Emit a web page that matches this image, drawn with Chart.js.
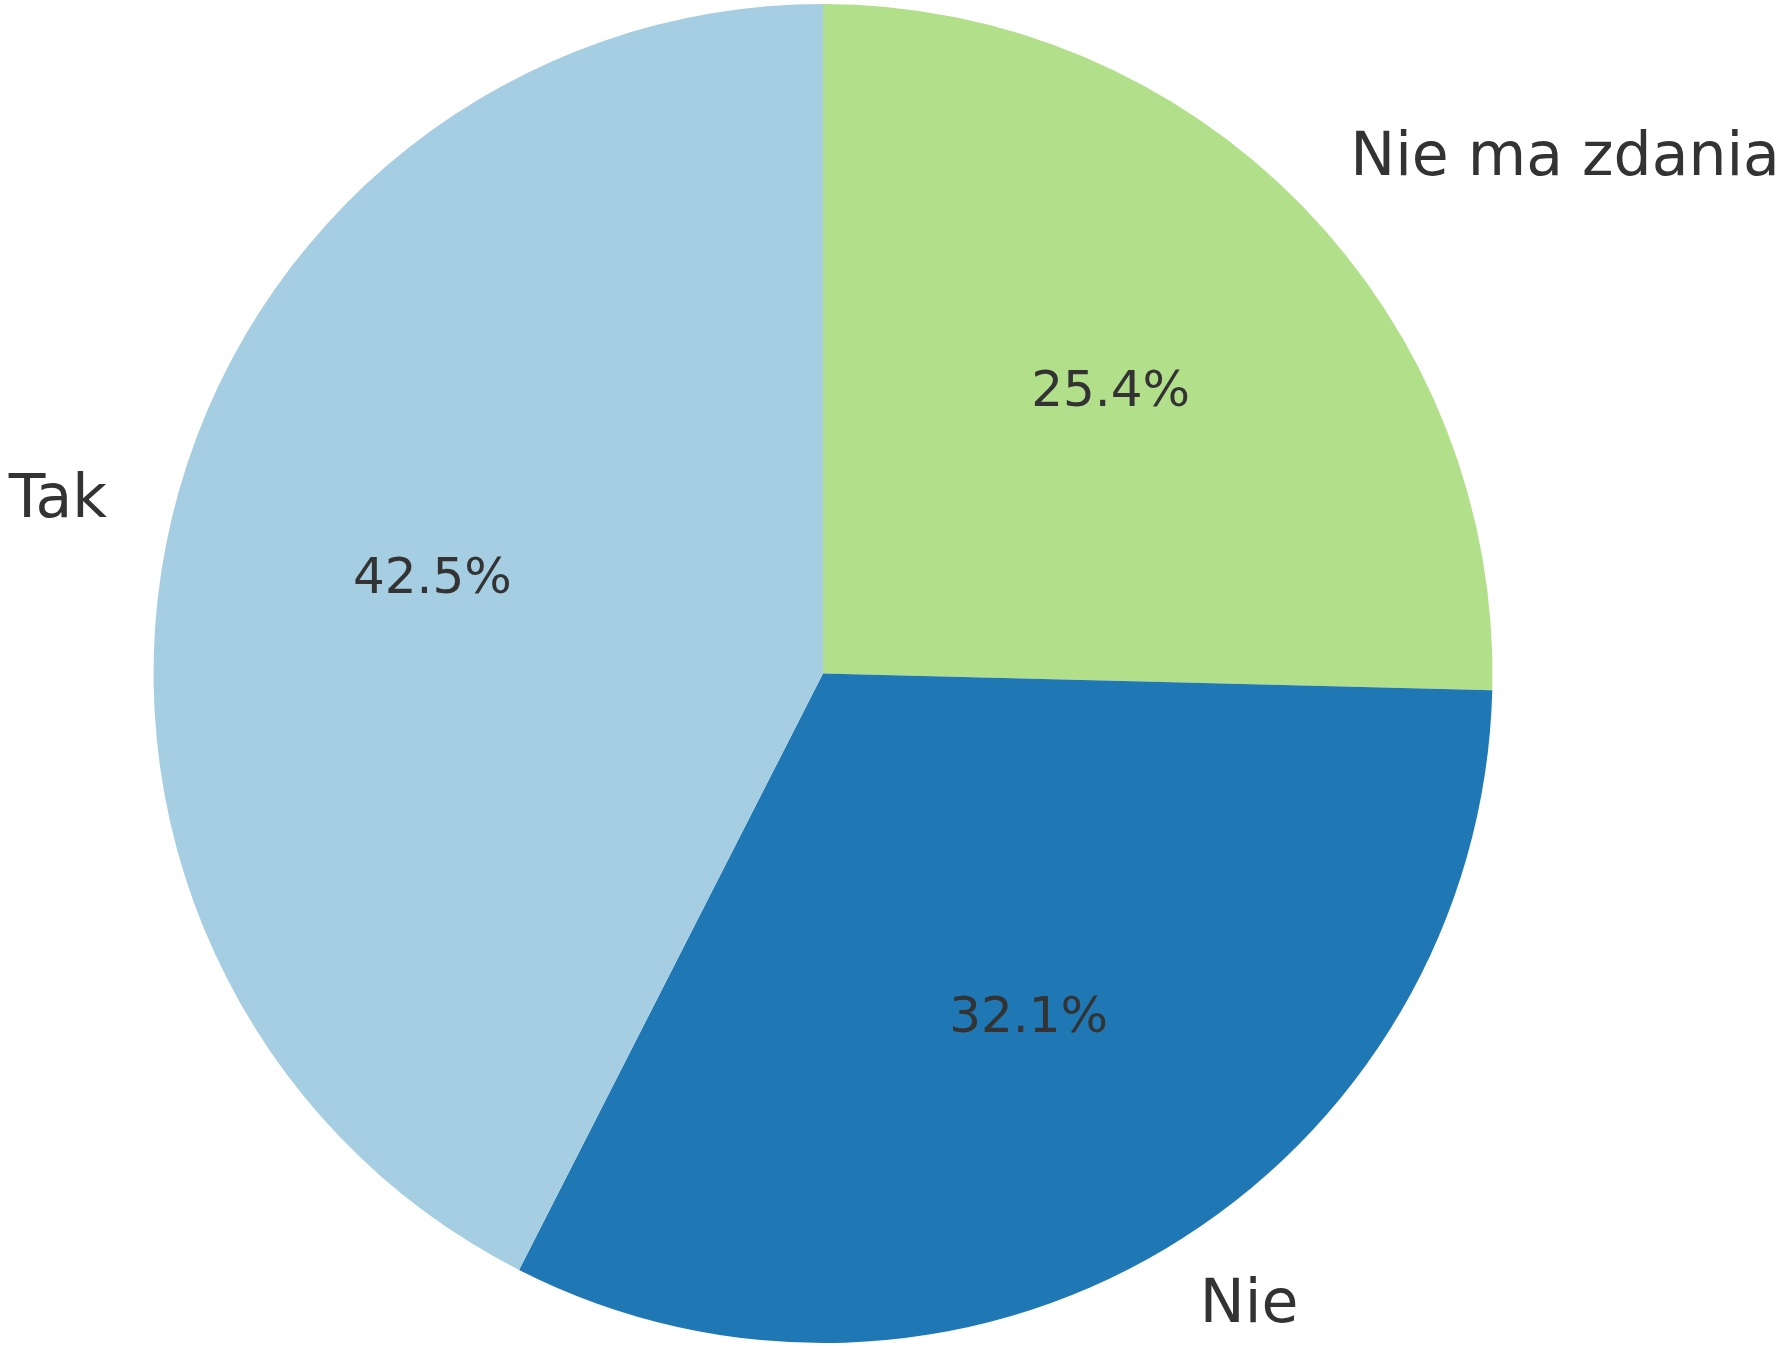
<!DOCTYPE html>
<html>
<head>
<meta charset="utf-8">
<script src="https://cdn.jsdelivr.net/npm/chart.js@4/dist/chart.umd.min.js"></script>
<style>
  html, body { margin: 0; padding: 0; background: #fff; }
  #wrap { width: 1783px; height: 1346px; position: relative; }
</style>
</head>
<body>
<div id="wrap"><canvas id="chart"></canvas></div>
<script>
// Data, clockwise from the top
const labels = ['Nie ma zdania', 'Nie', 'Tak'];
const shares = [25.4, 32.1, 42.5];
const colors = ['#b2df8a', '#1f78b4', '#a6cee3'];

// Draws the category names outside and the percentages inside each slice
const sliceLabels = {
  id: 'sliceLabels',
  afterDatasetsDraw(chart) {
    const ctx = chart.ctx;
    const arcs = chart.getDatasetMeta(0).data;
    ctx.save();
    ctx.fillStyle = '#333333';
    ctx.textBaseline = 'middle';
    arcs.forEach((arc, i) => {
      const mid = (arc.startAngle + arc.endAngle) / 2;
      const r = arc.outerRadius;
      const cos = Math.cos(mid), sin = Math.sin(mid);

      // outer label at 1.1 r
      ctx.font = '60px "DejaVu Sans"';
      ctx.textAlign = cos > 0 ? 'left' : 'right';
      ctx.fillText(labels[i], arc.x + 1.1 * r * cos, arc.y + 1.1 * r * sin);

      // percentage at 0.6 r
      ctx.font = '50px "DejaVu Sans"';
      ctx.textAlign = 'center';
      ctx.fillText(shares[i].toFixed(1) + '%', arc.x + 0.6 * r * cos, arc.y + 0.6 * r * sin);
    });
    ctx.restore();
  }
};

new Chart(document.getElementById('chart'), {
  type: 'pie',
  data: {
    labels: labels,
    datasets: [{
      data: shares,
      backgroundColor: colors,
      borderWidth: 0
    }]
  },
  options: {
    responsive: true,
    maintainAspectRatio: false,
    animation: false,
    layout: { padding: { top: 4, bottom: 3, left: 0, right: 137 } },
    plugins: {
      legend: { display: false },
      tooltip: { enabled: false }
    }
  },
  plugins: [sliceLabels]
});
</script>
</body>
</html>
